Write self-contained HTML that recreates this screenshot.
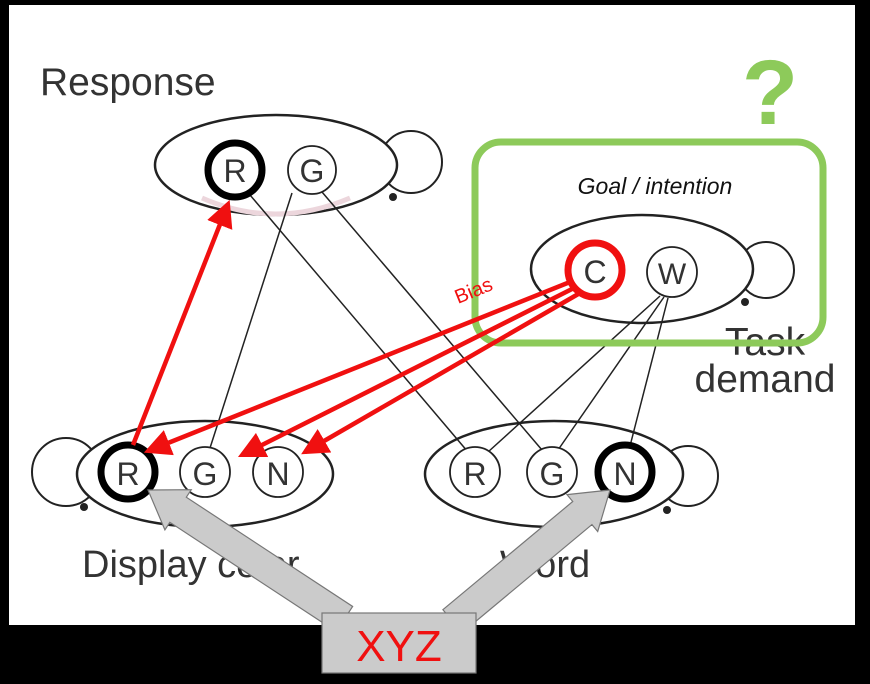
<!DOCTYPE html>
<html><head><meta charset="utf-8"><style>
html,body{margin:0;padding:0;background:#000;}
svg{display:block;}
text{font-family:"Liberation Sans",sans-serif;}
</style></head><body>
<svg width="870" height="684" viewBox="0 0 870 684" xmlns="http://www.w3.org/2000/svg">
<rect x="0" y="0" width="870" height="684" fill="#000"/>
<rect x="9" y="5" width="846" height="620" fill="#fff"/>

<text x="40" y="95" font-size="39" fill="#333">Response</text>
<text x="82" y="577" font-size="38" fill="#333">Display color</text>
<text x="500" y="577" font-size="38" fill="#333">Word</text>
<text x="765" y="355" font-size="39" fill="#333" text-anchor="middle">Task</text>
<text x="765" y="392" font-size="39" fill="#333" text-anchor="middle">demand</text>

<!-- loops -->
<g fill="none" stroke="#222" stroke-width="2">
<circle cx="411" cy="162" r="31"/>
<circle cx="766" cy="270" r="28"/>
<circle cx="66" cy="472" r="34"/>
<circle cx="688" cy="476" r="30"/>
</g>
<g fill="#222">
<circle cx="393" cy="197" r="4"/>
<circle cx="745" cy="302" r="4"/>
<circle cx="84" cy="507" r="4"/>
<circle cx="667" cy="510" r="4"/>
</g>

<!-- ellipses -->
<ellipse cx="276" cy="165" rx="121" ry="50" fill="#fff" stroke="#222" stroke-width="2.5"/>
<ellipse cx="642" cy="269" rx="111" ry="54" fill="#fff" stroke="#222" stroke-width="2.5"/>
<ellipse cx="205" cy="474" rx="128" ry="53" fill="#fff" stroke="#222" stroke-width="2.5"/>
<ellipse cx="554" cy="474" rx="129" ry="53" fill="#fff" stroke="#222" stroke-width="2.5"/>
<path d="M202,198 Q275,230 350,198" fill="none" stroke="#ecd6dc" stroke-width="5"/>

<!-- black connections -->
<g stroke="#222" stroke-width="1.5" fill="none">
<line x1="250" y1="195" x2="468" y2="452"/>
<line x1="292" y1="193" x2="210" y2="448"/>
<line x1="322" y1="192" x2="542" y2="450"/>
<line x1="660" y1="296" x2="488" y2="452"/>
<line x1="664" y1="297" x2="558" y2="450"/>
<line x1="668" y1="298" x2="630" y2="446"/>
</g>

<circle cx="235" cy="170" r="27" fill="#fff" stroke="#000" stroke-width="7"/>
<text x="235" y="182" font-size="32" text-anchor="middle" fill="#333">R</text>
<circle cx="312" cy="170" r="24" fill="#fff" stroke="#222" stroke-width="1.8"/>
<text x="312" y="182" font-size="32" text-anchor="middle" fill="#333">G</text>

<circle cx="595" cy="270" r="27" fill="#fff" stroke="#f01010" stroke-width="7"/>
<text x="595" y="283" font-size="32" text-anchor="middle" fill="#333">C</text>
<circle cx="672" cy="272" r="25" fill="#fff" stroke="#222" stroke-width="1.8"/>
<text x="672" y="284" font-size="30" text-anchor="middle" fill="#333">W</text>
<text x="655" y="194" font-size="23" font-style="italic" text-anchor="middle" fill="#111">Goal / intention</text>
<rect x="475" y="142" width="348" height="201" rx="26" fill="none" stroke="#8dca5a" stroke-width="7"/>
<text x="770" y="124" font-size="92" font-weight="bold" text-anchor="middle" fill="#8dca5a">?</text>

<circle cx="128" cy="472" r="27" fill="#fff" stroke="#000" stroke-width="7"/>
<text x="128" y="485" font-size="32" text-anchor="middle" fill="#333">R</text>
<circle cx="205" cy="472" r="25" fill="#fff" stroke="#222" stroke-width="1.8"/>
<text x="205" y="485" font-size="32" text-anchor="middle" fill="#333">G</text>
<circle cx="278" cy="472" r="25" fill="#fff" stroke="#222" stroke-width="1.8"/>
<text x="278" y="485" font-size="32" text-anchor="middle" fill="#333">N</text>

<circle cx="475" cy="472" r="25" fill="#fff" stroke="#222" stroke-width="1.8"/>
<text x="475" y="485" font-size="32" text-anchor="middle" fill="#333">R</text>
<circle cx="552" cy="472" r="25" fill="#fff" stroke="#222" stroke-width="1.8"/>
<text x="552" y="485" font-size="32" text-anchor="middle" fill="#333">G</text>
<circle cx="625" cy="472" r="27" fill="#fff" stroke="#000" stroke-width="7"/>
<text x="625" y="485" font-size="32" text-anchor="middle" fill="#333">N</text>

<!-- red arrows -->
<defs>
<marker id="ah" markerWidth="6" markerHeight="6" refX="5" refY="3" orient="auto" markerUnits="strokeWidth">
<path d="M0,0 L6,3 L0,6 z" fill="#f01010"/></marker>
</defs>
<g stroke="#f01010" stroke-width="4.5" fill="none">
<line x1="570" y1="282" x2="148" y2="451" marker-end="url(#ah)"/>
<line x1="574" y1="288" x2="242" y2="455" marker-end="url(#ah)"/>
<line x1="580" y1="293" x2="305" y2="452" marker-end="url(#ah)"/>
<line x1="133" y1="445" x2="228" y2="204" marker-end="url(#ah)"/>
</g>
<text x="0" y="0" font-size="20" fill="#f01010" transform="translate(458,304) rotate(-22)">Bias</text>

<!-- gray block arrows -->
<g fill="#cbcbcb" stroke="#777" stroke-width="1.2">
<polygon transform="translate(148,490) rotate(33.3)" points="0,0 36,-24 36,-15 235,-15 235,15 36,15 36,24"/>
<polygon transform="translate(610,490) rotate(140.2)" points="0,0 36,-24 36,-15 205,-15 205,15 36,15 36,24"/>
<rect x="322" y="613" width="154" height="60"/>
</g>
<text x="399" y="661" font-size="44" text-anchor="middle" fill="#f01010">XYZ</text>
</svg>
</body></html>
